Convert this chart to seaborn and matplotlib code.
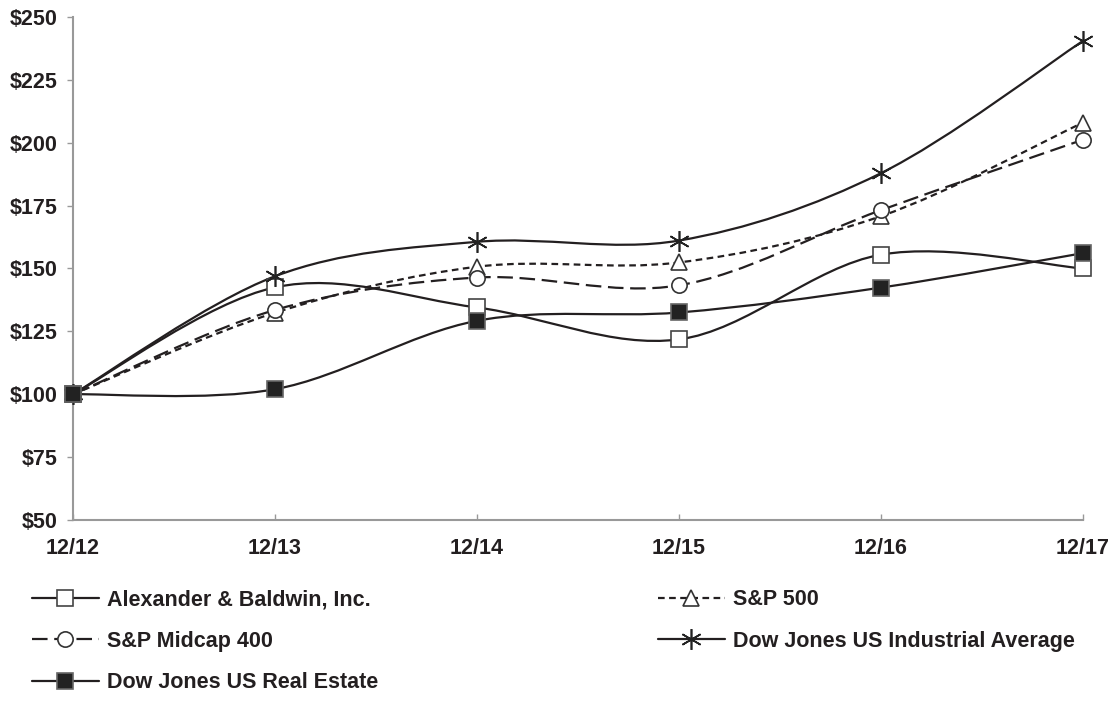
import numpy as np
import pandas as pd
from matplotlib import pyplot as plt
from matplotlib.path import Path
from matplotlib.patches import PathPatch
from matplotlib.lines import Line2D
import seaborn as sns

periods = ['12/12', '12/13', '12/14', '12/15', '12/16', '12/17']
alexander = [100, 142.5, 134.5, 121.8, 155.5, 150]
sp500 = [100, 132.4, 150.7, 152.4, 170.8, 208]
midcap = [100, 133.5, 146.4, 143.3, 173.2, 201.2]
djia = [100, 146.9, 160.6, 161.1, 187.9, 240.5]
real_estate = [100, 102, 129.2, 132.5, 142.4, 156.1]

sns.set_style('white')
plt.rcParams['font.family'] = ['Liberation Sans', 'DejaVu Sans']
plt.rcParams['font.weight'] = 'bold'

series = [
    # name, values, dashes, marker, size, face, edge
    ('Alexander & Baldwin, Inc.', alexander, None, 's', 11, 'white', '#444444'),
    ('S&P 500', sp500, (3, 2), '^', 11, 'white', '#333333'),
    ('S&P Midcap 400', midcap, (7, 3), 'o', 11, 'white', '#333333'),
    ('Dow Jones US Industrial Average', djia, None, (6, 2, 0), 15, 'none', '#222222'),
    ('Dow Jones US Real Estate', real_estate, None, 's', 11, '#222222', '#666666'),
]

x = np.arange(len(periods))

fig = plt.figure(figsize=(11.19, 7.23), dpi=100)
ax = fig.add_axes([0.0652, 0.2808, 0.9026, 0.6957])


def smooth_path(xs, ys, k=1 / 6):
    # excel-like smoothed line as cubic bezier segments
    pts = np.column_stack([xs, ys]).astype(float)
    n = len(pts)
    verts = [pts[0]]
    codes = [Path.MOVETO]
    for i in range(n - 1):
        p0 = pts[max(i - 1, 0)]
        p1 = pts[i]
        p2 = pts[i + 1]
        p3 = pts[min(i + 2, n - 1)]
        verts += [p1 + (p2 - p0) * k, p2 - (p3 - p1) * k, p2]
        codes += [Path.CURVE4] * 3
    return Path(verts, codes)


handles = {}
for name, vals, dashes, marker, msize, face, edge in series:
    ls = '-' if dashes is None else (0, dashes)
    patch = PathPatch(smooth_path(x, vals), facecolor='none', edgecolor='#231f20',
                      lw=1.6, linestyle=ls, zorder=2)
    ax.add_patch(patch)
    df = pd.DataFrame({'period': x, 'value': vals})
    sns.lineplot(data=df, x='period', y='value', ax=ax, linestyle='none',
                 marker=marker, markersize=msize, markerfacecolor=face,
                 markeredgecolor=edge, markeredgewidth=1.2, zorder=3,
                 clip_on=False)
    handles[name] = Line2D([], [], color='#231f20', lw=1.6,
                           linestyle=ls, marker=marker, markersize=msize,
                           markerfacecolor=face, markeredgecolor=edge,
                           markeredgewidth=1.2)

ax.set_xlim(0, 5)
ax.set_ylim(50, 250)
ax.set_xticks(x)
ax.set_xticklabels(periods)
ax.set_yticks(np.arange(50, 251, 25))
ax.set_yticklabels(['$' + str(v) for v in range(50, 251, 25)])
ax.set_xlabel('')
ax.set_ylabel('')
for s in ['top', 'right']:
    ax.spines[s].set_visible(False)
for s in ['left', 'bottom']:
    ax.spines[s].set_color('#999999')
    ax.spines[s].set_linewidth(1.5)
ax.tick_params(axis='y', left=True, direction='out', length=4, width=1,
               color='#999999', pad=7, labelsize=15.5, labelcolor='#231f20')
ax.tick_params(axis='x', bottom=True, direction='in', length=4, width=1,
               color='#999999', pad=13, labelsize=15.5, labelcolor='#231f20')
ax.set_facecolor('white')

order = ['Alexander & Baldwin, Inc.', 'S&P Midcap 400', 'Dow Jones US Real Estate',
         'S&P 500', 'Dow Jones US Industrial Average']
fig.legend([handles[n] for n in order], order, loc='upper left',
           bbox_to_anchor=(0.019, 0.2), ncol=2, frameon=False,
           fontsize=15.5, handlelength=3.1, handletextpad=0.37,
           labelspacing=0.95, columnspacing=13.0, borderpad=0,
           labelcolor='#231f20')

plt.savefig('out.png', dpi=100)
